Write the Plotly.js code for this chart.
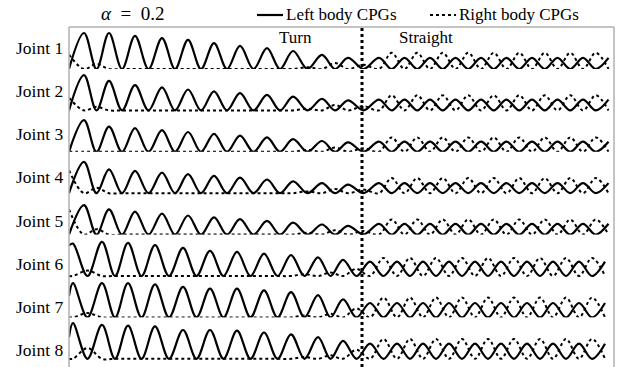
<!DOCTYPE html>
<html><head><meta charset="utf-8">
<script src="https://cdn.plot.ly/plotly-3.0.1.min.js"></script>
<style>html,body{margin:0;padding:0;background:#fff}#chart{width:622px;height:367px}</style>
</head><body><div id="chart"></div>
<script>
// ---- data (time in s, CPG output normalised) ----
const jointNames = ['Joint 1','Joint 2','Joint 3','Joint 4','Joint 5','Joint 6','Joint 7','Joint 8'];
const seriesNames = ['Left body CPGs','Right body CPGs'];
const phaseNames = ['Turn','Straight'];
const titleText = '<i>α</i>\u00a0\u00a0=\u00a0\u00a00.2';
const switchTime = 11.72;
const endTime = 21.8;
// left-CPG peak times, joints 1-5 and joints 6-8
const peakTimesA = [0.6,1.6,2.64,3.72,4.76,5.8,6.84,7.92,8.96,10.12,11.16,12.4,13.42,14.44,15.46,16.48,17.5,18.52,19.54,20.56,21.58];
const peakTimesB = [0.16,1.32,2.36,3.44,4.56,5.64,6.72,7.8,8.88,9.96,10.96,12.04,13.12,14.16,15.2,16.24,17.28,18.32,19.36,20.4,21.44];
const jointGroup = ['A','A','A','A','A','B','B','B'];
// values at t = 0
const startLeft  = [0, 0, 0, 0, 0, 0.85, 0.6, 0.6];
const startRight = [0.4, 0.35, 0, 0.64, 0.7, 0, 0, 0];
// left body CPG peak heights
const leftJ1 = [1.0,1.0,0.92,0.86,0.81,0.72,0.64,0.58,0.5,0.39,0.31,0.31,0.31,0.31,0.31,0.31,0.31,0.31,0.31,0.31,0.31];
const leftJ2 = [0.98,0.82,0.7,0.64,0.58,0.53,0.48,0.43,0.38,0.32,0.28,0.3,0.3,0.3,0.3,0.3,0.3,0.3,0.3,0.3,0.3];
const leftJ3 = [0.88,0.7,0.66,0.6,0.55,0.5,0.45,0.4,0.35,0.3,0.26,0.28,0.28,0.28,0.28,0.28,0.28,0.28,0.28,0.28,0.28];
const leftJ4 = [0.87,0.66,0.62,0.57,0.53,0.48,0.43,0.38,0.33,0.28,0.24,0.28,0.28,0.28,0.28,0.28,0.28,0.28,0.28,0.28,0.28];
const leftJ5 = [0.82,0.7,0.64,0.58,0.53,0.48,0.43,0.38,0.33,0.28,0.24,0.3,0.3,0.3,0.3,0.3,0.3,0.3,0.3,0.3,0.3];
const leftJ6 = [0.9,0.95,0.92,0.86,0.78,0.7,0.67,0.62,0.58,0.52,0.45,0.4,0.4,0.4,0.4,0.4,0.4,0.4,0.4,0.4,0.4];
const leftJ7 = [0.95,0.95,0.95,0.92,0.85,0.8,0.8,0.75,0.7,0.62,0.5,0.4,0.4,0.4,0.4,0.4,0.4,0.4,0.4,0.4,0.4];
const leftJ8 = [0.99,0.94,0.92,0.9,0.8,0.8,0.78,0.73,0.68,0.6,0.5,0.42,0.42,0.42,0.42,0.42,0.42,0.42,0.42,0.42,0.42];
// right body CPG peak heights (between left peaks)
const rightJ1 = [0.14,0,0,0,0,0,0,0,0.05,0.17,0.12,0.45,0.45,0.45,0.45,0.45,0.45,0.45,0.45,0.45];
const rightJ2 = [0.1,0,0,0,0,0,0,0,0.05,0.15,0.12,0.42,0.42,0.42,0.42,0.42,0.42,0.42,0.42,0.42];
const rightJ3 = [0,0,0,0,0,0,0,0,0.05,0.12,0.1,0.4,0.4,0.4,0.4,0.4,0.4,0.4,0.4,0.4];
const rightJ4 = [0.15,0,0,0,0,0,0,0,0.05,0.12,0.1,0.42,0.42,0.42,0.42,0.42,0.42,0.42,0.42,0.42];
const rightJ5 = [0.15,0,0,0,0,0,0,0,0.05,0.12,0.1,0.42,0.42,0.42,0.42,0.42,0.42,0.42,0.42,0.42];
const rightJ6 = [0.15,0,0,0,0,0,0,0,0.05,0.1,0.2,0.5,0.5,0.5,0.5,0.5,0.5,0.5,0.5,0.5];
const rightJ7 = [0.12,0,0,0,0,0,0,0,0.05,0.1,0.25,0.55,0.55,0.55,0.55,0.55,0.55,0.55,0.55,0.55];
const rightJ8 = [0.3,0,0,0,0,0,0,0,0.05,0.1,0.25,0.55,0.55,0.55,0.55,0.55,0.55,0.55,0.55,0.55];
const leftPeaks = [leftJ1,leftJ2,leftJ3,leftJ4,leftJ5,leftJ6,leftJ7,leftJ8];
const rightPeaks = [rightJ1,rightJ2,rightJ3,rightJ4,rightJ5,rightJ6,rightJ7,rightJ8];

// ---- build ----
const W = 622, H = 367, mL = 69, mR = 8, mT = 27, mB = 0;
const plotW = W - mL - mR, plotH = H - mT - mB;
const px2x = p => (p - mL) / plotW;          // page px -> paper x
const py2y = p => (H - mB - p) / plotH;      // page px -> paper y
const rowTop = 69, rowStep = 41.4, ampPx = 36, pad = 0.15;
const serif = 'Liberation Serif, Times New Roman, serif';
const traces = [];
const layout = {
  width: W, height: H, margin: {l: mL, r: mR, t: mT, b: mB, autoexpand: false},
  paper_bgcolor: '#fff', plot_bgcolor: '#fff',
  font: {family: serif, size: 17, color: '#000'},
  showlegend: false,
  xaxis: {range: [0, endTime], visible: false, fixedrange: true},
  shapes: [], annotations: []
};
for (let j = 0; j < 8; j++) {
  const P = jointGroup[j] === 'A' ? peakTimesA : peakTimesB;
  const L = leftPeaks[j], R = rightPeaks[j];
  const xs = [0], yl = [startLeft[j]], yr = [startRight[j]];
  for (let k = 0; k < P.length; k++) {
    xs.push(P[k]); yl.push(L[k]); yr.push(0);
    if (k < P.length - 1) { xs.push((P[k] + P[k+1]) / 2); yl.push(0); yr.push(R[k]); }
  }
  const ya = j === 0 ? 'y' : 'y' + (j + 1);
  const axName = j === 0 ? 'yaxis' : 'yaxis' + (j + 1);
  const trough = rowTop + rowStep * j;
  const lo = py2y(trough + pad * ampPx);
  const hi = py2y(trough - (1 + pad) * ampPx);
  layout[axName] = {domain: [Math.max(0, lo), Math.min(1, hi)], range: [-pad, 1 + pad], visible: false, fixedrange: true};
  traces.push({x: xs, y: yl, yaxis: ya, type: 'scatter', mode: 'lines', name: seriesNames[0],
    line: {color: '#000', width: 2.2, shape: 'spline', smoothing: 1}});
  traces.push({x: xs, y: yr, yaxis: ya, type: 'scatter', mode: 'lines', name: seriesNames[1],
    line: {color: '#000', width: 2, dash: 'dot', shape: 'spline', smoothing: 1}});
  layout.annotations.push({xref: 'paper', yref: 'paper', x: 0, xanchor: 'right', xshift: -4,
    y: py2y(48 + 43.14 * j), yanchor: 'middle', text: jointNames[j], showarrow: false,
    font: {family: serif, size: 17.5}});
}
// frame
const frameCol = '#b0b0b0';
layout.shapes.push({type: 'line', xref: 'paper', yref: 'paper', x0: 0, x1: 0, y0: 0, y1: 1, line: {color: frameCol, width: 1.5}});
layout.shapes.push({type: 'line', xref: 'paper', yref: 'paper', x0: 0, x1: 1, y0: 1, y1: 1, line: {color: frameCol, width: 1.5}});
layout.shapes.push({type: 'line', xref: 'paper', yref: 'paper', x0: 1, x1: 1, y0: 0, y1: 1, line: {color: frameCol, width: 1.5}});
// switch line
layout.shapes.push({type: 'line', xref: 'x', yref: 'paper', x0: switchTime, x1: switchTime, y0: 0, y1: 1, line: {color: '#000', width: 3, dash: 'dot'}});
layout.annotations.push({xref: 'paper', yref: 'paper', x: px2x(295), xanchor: 'center', y: py2y(37), yanchor: 'middle', text: phaseNames[0], showarrow: false, font: {family: serif, size: 17}});
layout.annotations.push({xref: 'paper', yref: 'paper', x: px2x(426), xanchor: 'center', y: py2y(37), yanchor: 'middle', text: phaseNames[1], showarrow: false, font: {family: serif, size: 17}});
layout.annotations.push({xref: 'paper', yref: 'paper', x: px2x(132), xanchor: 'center', y: py2y(14), yanchor: 'middle', text: titleText, showarrow: false, font: {family: serif, size: 19}});
// legend (drawn by hand so it sits exactly where the reference has it)
layout.shapes.push({type: 'line', xref: 'paper', yref: 'paper', x0: px2x(257), x1: px2x(283), y0: py2y(15), y1: py2y(15), line: {color: '#000', width: 2.2}});
layout.annotations.push({xref: 'paper', yref: 'paper', x: px2x(284), xanchor: 'left', y: py2y(15), yanchor: 'middle', text: seriesNames[0], showarrow: false, font: {family: serif, size: 17}});
layout.shapes.push({type: 'line', xref: 'paper', yref: 'paper', x0: px2x(430), x1: px2x(456), y0: py2y(15), y1: py2y(15), line: {color: '#000', width: 2, dash: 'dot'}});
layout.annotations.push({xref: 'paper', yref: 'paper', x: px2x(457), xanchor: 'left', y: py2y(15), yanchor: 'middle', text: seriesNames[1], showarrow: false, font: {family: serif, size: 17}});
Plotly.newPlot('chart', traces, layout, {displayModeBar: false, staticPlot: true});
</script></body></html>
